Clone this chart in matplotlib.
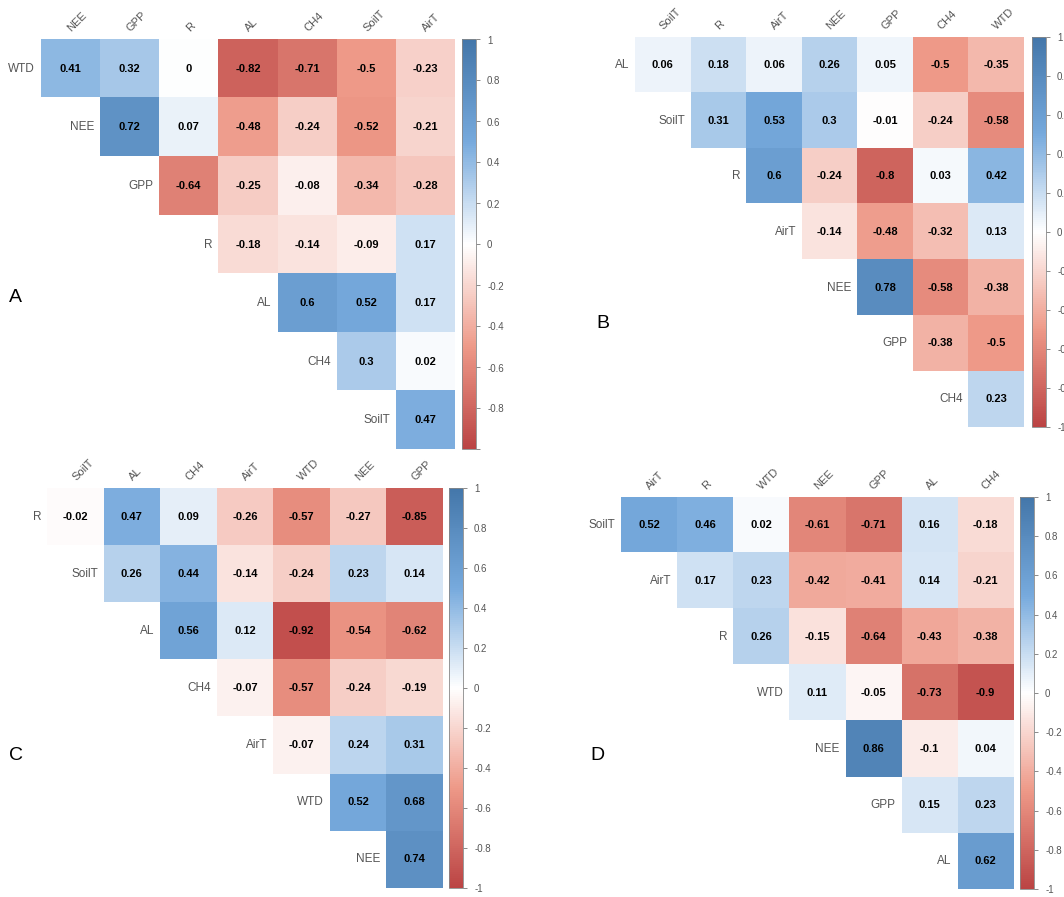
import numpy as np
import matplotlib
matplotlib.use("Agg")
import matplotlib.pyplot as plt
from matplotlib.colors import LinearSegmentedColormap

plt.rcParams['font.family'] = ['Liberation Sans', 'DejaVu Sans']
plt.rcParams['axes.unicode_minus'] = False

# Panel A
cols_a = ['NEE', 'GPP', 'R', 'AL', 'CH4', 'SoilT', 'AirT']
rows_a = ['WTD', 'NEE', 'GPP', 'R', 'AL', 'CH4', 'SoilT']
vals_a = [
    [0.41, 0.32, 0, -0.82, -0.71, -0.5, -0.23],
    [0.72, 0.07, -0.48, -0.24, -0.52, -0.21],
    [-0.64, -0.25, -0.08, -0.34, -0.28],
    [-0.18, -0.14, -0.09, 0.17],
    [0.6, 0.52, 0.17],
    [0.3, 0.02],
    [0.47],
]

# Panel B
cols_b = ['SoilT', 'R', 'AirT', 'NEE', 'GPP', 'CH4', 'WTD']
rows_b = ['AL', 'SoilT', 'R', 'AirT', 'NEE', 'GPP', 'CH4']
vals_b = [
    [0.06, 0.18, 0.06, 0.26, 0.05, -0.5, -0.35],
    [0.31, 0.53, 0.3, -0.01, -0.24, -0.58],
    [0.6, -0.24, -0.8, 0.03, 0.42],
    [-0.14, -0.48, -0.32, 0.13],
    [0.78, -0.58, -0.38],
    [-0.38, -0.5],
    [0.23],
]

# Panel C
cols_c = ['SoilT', 'AL', 'CH4', 'AirT', 'WTD', 'NEE', 'GPP']
rows_c = ['R', 'SoilT', 'AL', 'CH4', 'AirT', 'WTD', 'NEE']
vals_c = [
    [-0.02, 0.47, 0.09, -0.26, -0.57, -0.27, -0.85],
    [0.26, 0.44, -0.14, -0.24, 0.23, 0.14],
    [0.56, 0.12, -0.92, -0.54, -0.62],
    [-0.07, -0.57, -0.24, -0.19],
    [-0.07, 0.24, 0.31],
    [0.52, 0.68],
    [0.74],
]

# Panel D
cols_d = ['AirT', 'R', 'WTD', 'NEE', 'GPP', 'AL', 'CH4']
rows_d = ['SoilT', 'AirT', 'R', 'WTD', 'NEE', 'GPP', 'AL']
vals_d = [
    [0.52, 0.46, 0.02, -0.61, -0.71, 0.16, -0.18],
    [0.17, 0.23, -0.42, -0.41, 0.14, -0.21],
    [0.26, -0.15, -0.64, -0.43, -0.38],
    [0.11, -0.05, -0.73, -0.9],
    [0.86, -0.1, 0.04],
    [0.15, 0.23],
    [0.62],
]

cbar_ticks = [1, 0.8, 0.6, 0.4, 0.2, 0, -0.2, -0.4, -0.6, -0.8, -1]

cmap = LinearSegmentedColormap.from_list(
    'corr', ['#BB4444', '#EE9988', '#FFFFFF', '#77AADD', '#4477AA'], N=200)

W, H = 1064, 897
fig = plt.figure(figsize=(W / 100, H / 100), dpi=100)


def px(x, y, w, h):
    return [x / W, 1 - (y + h) / H, w / W, h / H]


def corr_panel(cols, rows, vals, box, cbar_x, letter, letter_xy, last_tick=True):
    n = len(cols)
    mat = np.full((n, n), np.nan)
    for i, row in enumerate(vals):
        mat[i, i:i + len(row)] = row
    x, y, w, h = box
    ax = fig.add_axes(px(x, y, w, h))
    im = ax.imshow(np.ma.masked_invalid(mat), cmap=cmap, vmin=-1, vmax=1,
                   aspect='auto', interpolation='nearest')
    ax.set_xlim(-0.5, n - 0.5)
    ax.set_ylim(n - 0.5, -0.5)
    ax.axis('off')
    for i, row in enumerate(vals):
        for k, v in enumerate(row):
            ax.text(i + k, i, f'{v:g}', ha='center', va='center',
                    fontsize=8, fontweight='bold', color='black')
        ax.text(i - 0.6, i, rows[i], ha='right', va='center',
                fontsize=8.5, color='#555555', clip_on=False)
    for j, c in enumerate(cols):
        ax.text(j + 0.04, -0.6, c, ha='left', va='bottom', rotation=45,
                rotation_mode='anchor', fontsize=8, color='#555555',
                clip_on=False)

    cax = fig.add_axes(px(cbar_x, y, 14, h))
    cb = fig.colorbar(im, cax=cax, ticks=cbar_ticks)
    labels = [f'{t:g}' for t in cbar_ticks]
    if not last_tick:
        labels[-1] = ''
    cb.ax.set_yticklabels(labels)
    cb.ax.tick_params(length=3, width=0.6, color='#777777', labelsize=7,
                      labelcolor='#555555', pad=5)
    cb.outline.set_edgecolor('#888888')
    cb.outline.set_linewidth(0.6)

    fig.text(letter_xy[0] / W, 1 - letter_xy[1] / H, letter, fontsize=14,
             ha='center', va='center', color='black')


corr_panel(cols_a, rows_a, vals_a, (41, 39.5, 414, 410), 462, 'A', (15, 297),
           last_tick=False)
corr_panel(cols_b, rows_b, vals_b, (635, 37, 389, 390), 1032, 'B', (603, 323))
corr_panel(cols_c, rows_c, vals_c, (47, 488, 396, 400), 449, 'C', (16, 755))
corr_panel(cols_d, rows_d, vals_d, (621, 497, 392, 392), 1020, 'D', (597, 755))

fig.savefig('out.png', dpi=100)
